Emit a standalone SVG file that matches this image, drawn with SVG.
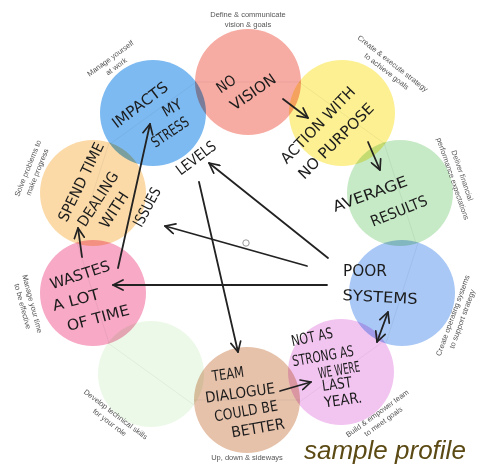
<svg xmlns="http://www.w3.org/2000/svg" width="491" height="465" viewBox="0 0 491 465">
<style>
.c{mix-blend-mode:multiply}
.ch{stroke:#000;stroke-opacity:0.05;stroke-width:1}
.lb{font-family:"Liberation Sans",Arial,sans-serif;font-size:7.5px;fill:#555;text-anchor:middle;dominant-baseline:central}
.hw{font-family:"DejaVu Sans Condensed","DejaVu Sans",sans-serif;font-size:15px;fill:#1c1c1c;text-anchor:middle;dominant-baseline:central}
.ar{fill:none;stroke:#222;stroke-width:1.8;stroke-linecap:round}
</style>
<defs>
<marker id="ah" viewBox="0 0 12 12" refX="11" refY="6" markerWidth="12" markerHeight="12" markerUnits="userSpaceOnUse" orient="auto-start-reverse">
<path d="M1,1 L11,6 L1,11" fill="none" stroke="#222" stroke-width="1.7" stroke-linecap="round" stroke-linejoin="round"/>
</marker>
</defs>
<rect width="491" height="465" fill="#fff"/>

<g id="circles">
<circle class="c" cx="248" cy="82" r="53" fill="#f7aca3"/>
<circle class="c" cx="342" cy="113" r="53" fill="#fcf092"/>
<circle class="c" cx="400" cy="193" r="53" fill="#c6e9c6"/>
<circle class="c" cx="402" cy="293" r="53" fill="#a9c8f6"/>
<circle class="c" cx="341" cy="372" r="53" fill="#f2c5f1"/>
<circle class="c" cx="247" cy="400" r="53" fill="#e6c2ab"/>
<circle class="c" cx="151" cy="374" r="53" fill="#ecf9e8"/>
<circle class="c" cx="93" cy="293" r="53" fill="#f7a9c5"/>
<circle class="c" cx="93" cy="193" r="53" fill="#fbdaa8"/>
<circle class="c" cx="153" cy="113" r="53" fill="#7dbaf1"/>
<g class="ch">
<line x1="195" y1="82" x2="301" y2="82"/>
<line x1="299" y1="82" x2="385" y2="144"/>
<line x1="384" y1="143" x2="416" y2="243"/>
<line x1="418" y1="243" x2="386" y2="343"/>
<line x1="384" y1="341" x2="298" y2="403"/>
<line x1="300" y1="400" x2="194" y2="400"/>
<line x1="194" y1="405" x2="108" y2="343"/>
<line x1="109" y1="343" x2="77" y2="243"/>
<line x1="77" y1="243" x2="109" y2="143"/>
<line x1="110" y1="144" x2="196" y2="82"/>
</g>
<circle cx="246" cy="243" r="3.2" fill="none" stroke="#999" stroke-width="1"/>
</g>

<g id="n-vision">
<text class="lb" transform="translate(248,19)"><tspan x="0" y="-5">Define &amp; communicate</tspan><tspan x="0" y="5">vision &amp; goals</tspan></text>
<text class="hw" transform="translate(226,84) rotate(-35)" textLength="20" lengthAdjust="spacingAndGlyphs">NO</text>
<text class="hw" transform="translate(253,92) rotate(-35)" textLength="52" lengthAdjust="spacingAndGlyphs">VISION</text>
</g>

<g id="n-strategy">
<text class="lb" transform="translate(390,67) rotate(38)"><tspan x="0" y="-5">Create &amp; execute strategy</tspan><tspan x="0" y="5">to achieve goals</tspan></text>
<text class="hw" transform="translate(318,125) rotate(-46)" textLength="100" lengthAdjust="spacingAndGlyphs">ACTION WITH</text>
<text class="hw" transform="translate(336,141) rotate(-45)" textLength="100" lengthAdjust="spacingAndGlyphs">NO PURPOSE</text>
</g>

<g id="n-results">
<text class="lb" transform="translate(458,177) rotate(71)"><tspan x="0" y="-5">Deliver financial</tspan><tspan x="0" y="5">performance expectations</tspan></text>
<text class="hw" transform="translate(370,194) rotate(-20)" textLength="78" lengthAdjust="spacingAndGlyphs">AVERAGE</text>
<text class="hw" transform="translate(399,211) rotate(-22)" textLength="60" lengthAdjust="spacingAndGlyphs">RESULTS</text>
</g>

<g id="n-systems">
<text class="lb" transform="translate(457,317) rotate(-70)"><tspan x="0" y="-5">Create operating systems</tspan><tspan x="0" y="5">to support strategy</tspan></text>
<text class="hw" transform="translate(365,271)" textLength="44" lengthAdjust="spacingAndGlyphs">POOR</text>
<text class="hw" transform="translate(380,297) rotate(3)" textLength="75" lengthAdjust="spacingAndGlyphs">SYSTEMS</text>
</g>

<g id="n-team">
<text class="lb" transform="translate(380,417) rotate(-36)"><tspan x="0" y="-5">Build &amp; empower team</tspan><tspan x="0" y="5">to meet goals</tspan></text>
<text class="hw" transform="translate(312,337) rotate(-12)" textLength="42" lengthAdjust="spacingAndGlyphs">NOT AS</text>
<text class="hw" transform="translate(323,356) rotate(-10)" textLength="62" lengthAdjust="spacingAndGlyphs">STRONG AS</text>
<text class="hw" transform="translate(339,370) rotate(-10)" textLength="42" lengthAdjust="spacingAndGlyphs">WE WERE</text>
<text class="hw" transform="translate(337,384) rotate(-8)" textLength="30" lengthAdjust="spacingAndGlyphs">LAST</text>
<text class="hw" transform="translate(343,400) rotate(-8)" textLength="38" lengthAdjust="spacingAndGlyphs">YEAR.</text>
</g>

<g id="n-dialogue">
<text class="lb" transform="translate(247,457)"><tspan x="0" y="0">Up, down &amp; sideways</tspan></text>
<text class="hw" transform="translate(228,374) rotate(-8)" textLength="32" lengthAdjust="spacingAndGlyphs">TEAM</text>
<text class="hw" transform="translate(240,393) rotate(-8)" textLength="70" lengthAdjust="spacingAndGlyphs">DIALOGUE</text>
<text class="hw" transform="translate(246,411) rotate(-10)" textLength="64" lengthAdjust="spacingAndGlyphs">COULD BE</text>
<text class="hw" transform="translate(258,428) rotate(-10)" textLength="54" lengthAdjust="spacingAndGlyphs">BETTER</text>
</g>

<g id="n-skills">
<text class="lb" transform="translate(113,418) rotate(37)"><tspan x="0" y="-5">Develop technical skills</tspan><tspan x="0" y="5">for your role</tspan></text>
</g>

<g id="n-time">
<text class="lb" transform="translate(28,305) rotate(75)"><tspan x="0" y="-5">Manage your time</tspan><tspan x="0" y="5">to be effective</tspan></text>
<text class="hw" transform="translate(80,275) rotate(-18)" textLength="62" lengthAdjust="spacingAndGlyphs">WASTES</text>
<text class="hw" transform="translate(76,300) rotate(-15)" textLength="48" lengthAdjust="spacingAndGlyphs">A LOT</text>
<text class="hw" transform="translate(98,318) rotate(-15)" textLength="64" lengthAdjust="spacingAndGlyphs">OF TIME</text>
</g>

<g id="n-problems">
<text class="lb" transform="translate(32,170) rotate(-68)"><tspan x="0" y="-5">Solve problems to</tspan><tspan x="0" y="5">make progress</tspan></text>
<text class="hw" transform="translate(81,182) rotate(-64)" textLength="86" lengthAdjust="spacingAndGlyphs">SPEND TIME</text>
<text class="hw" transform="translate(98,199) rotate(-57)" textLength="62" lengthAdjust="spacingAndGlyphs">DEALING</text>
<text class="hw" transform="translate(114,210) rotate(-57)" textLength="40" lengthAdjust="spacingAndGlyphs">WITH</text>
<text class="hw" transform="translate(147,207) rotate(-62)" textLength="42" lengthAdjust="spacingAndGlyphs">ISSUES</text>
</g>

<g id="n-self">
<text class="lb" transform="translate(113,62) rotate(-36)"><tspan x="0" y="-5">Manage yourself</tspan><tspan x="0" y="5">at work</tspan></text>
<text class="hw" transform="translate(140,105) rotate(-37)" textLength="66" lengthAdjust="spacingAndGlyphs">IMPACTS</text>
<text class="hw" transform="translate(172,108) rotate(-30)" textLength="20" lengthAdjust="spacingAndGlyphs">MY</text>
<text class="hw" transform="translate(170,132) rotate(-34)" textLength="42" lengthAdjust="spacingAndGlyphs">STRESS</text>
<text class="hw" transform="translate(196,158) rotate(-37)" textLength="46" lengthAdjust="spacingAndGlyphs">LEVELS</text>
</g>

<g id="connectors">
<path class="ar" d="M283,99 L308,118" marker-end="url(#ah)"/>
<path class="ar" d="M368,142 L380,170" marker-end="url(#ah)"/>
<path class="ar" d="M388,312 L377,342" marker-start="url(#ah)" marker-end="url(#ah)"/>
<path class="ar" d="M280,391 L311,382" marker-end="url(#ah)"/>
<path class="ar" d="M199,182 L238,352" marker-end="url(#ah)"/>
<path class="ar" d="M328,258 L209,163" marker-end="url(#ah)"/>
<path class="ar" d="M307,266 L165,226" marker-end="url(#ah)"/>
<path class="ar" d="M327,285 L113,285" marker-end="url(#ah)"/>
<path class="ar" d="M118,268 L150,124" marker-end="url(#ah)"/>
<path class="ar" d="M82,257 L78,228" marker-end="url(#ah)"/>
</g>

<text x="304" y="459" font-family="'Liberation Sans',Arial,sans-serif" font-style="italic" font-size="26" fill="#5c4a14">sample profile</text>
</svg>
